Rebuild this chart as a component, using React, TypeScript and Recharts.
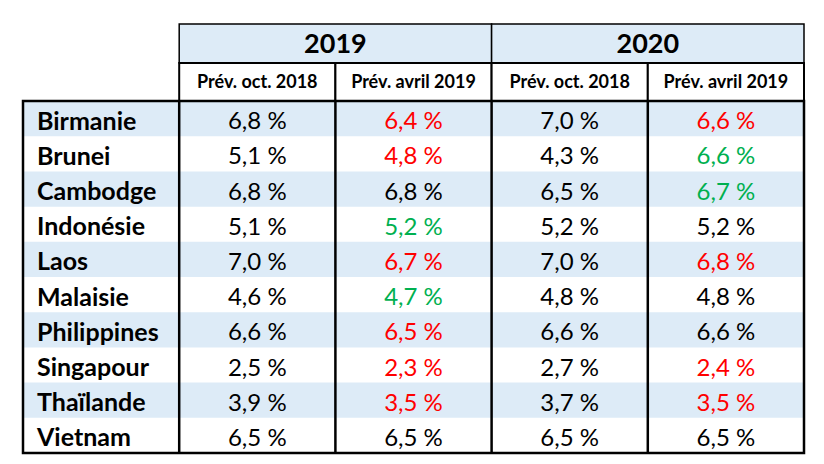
import React from "react";
import {
  ScatterChart,
  XAxis,
  YAxis,
  Scatter,
  ReferenceArea,
  ReferenceLine,
} from "recharts";

const countries = [
  "Birmanie",
  "Brunei",
  "Cambodge",
  "Indonésie",
  "Laos",
  "Malaisie",
  "Philippines",
  "Singapour",
  "Thaïlande",
  "Vietnam",
];
const years = ["2019", "2020"];
const editions = ["Prév. oct. 2018", "Prév. avril 2019"];

// growth forecasts (%), one array per column
const oct2018For2019 = [6.8, 5.1, 6.8, 5.1, 7.0, 4.6, 6.6, 2.5, 3.9, 6.5];
const avr2019For2019 = [6.4, 4.8, 6.8, 5.2, 6.7, 4.7, 6.5, 2.3, 3.5, 6.5];
const oct2018For2020 = [7.0, 4.3, 6.5, 5.2, 7.0, 4.8, 6.6, 2.7, 3.7, 6.5];
const avr2019For2020 = [6.6, 6.6, 6.7, 5.2, 6.8, 4.8, 6.6, 2.4, 3.5, 6.5];

const BLUE = "#DDEBF7";
const FONT = "Lato, 'Open Sans', sans-serif";
const TOP = -2.19; // top of year header row (row units)
const MID = -1.08; // line between year row and edition row

const trend = (now: number, before: number) =>
  now < before ? "#FF0000" : now > before ? "#00B050" : "#000000";
const fmt = (v: number) => v.toFixed(1).replace(".", ",") + " %";

const columns = [
  { values: oct2018For2019, ref: null as number[] | null },
  { values: avr2019For2019, ref: oct2018For2019 },
  { values: oct2018For2020, ref: null as number[] | null },
  { values: avr2019For2020, ref: oct2018For2020 },
];

const cells = columns.flatMap((col, c) =>
  col.values.map((v, r) => ({
    col: c + 1.5,
    row: r + 0.5,
    label: fmt(v),
    color: col.ref ? trend(v, col.ref[r]) : "#000000",
  }))
);
const rowLabels = countries.map((name, r) => ({ col: 0, row: r + 0.5, label: name }));

const ValueCell = (p: any) => (
  <text
    x={p.cx}
    y={p.cy + 1}
    textAnchor="middle"
    dominantBaseline="central"
    fontFamily={FONT}
    fontSize={24}
    fill={p.payload.color}
  >
    {p.payload.label}
  </text>
);

const CountryCell = (p: any) => (
  <text
    x={p.cx + 14}
    y={p.cy + 1}
    textAnchor="start"
    dominantBaseline="central"
    fontFamily={FONT}
    fontWeight="bold"
    fontSize={25}
    fill="#000000"
  >
    {p.payload.label}
  </text>
);

const headerLabel = (value: string, size: number) => ({
  value,
  position: "center" as const,
  fill: "#000000",
  fontFamily: FONT,
  fontWeight: "bold",
  fontSize: size,
});

export default function App() {
  return (
    <ScatterChart
      width={808}
      height={448}
      margin={{ top: 16, right: 12, bottom: 3, left: 15 }}
    >
      <XAxis type="number" dataKey="col" domain={[0, 5]} hide />
      <YAxis type="number" dataKey="row" domain={[TOP, 10]} reversed hide />

      {countries.map((c, r) =>
        r % 2 === 0 ? (
          <ReferenceArea
            key={c}
            x1={0}
            x2={5}
            y1={r}
            y2={r + 1}
            fill={BLUE}
            fillOpacity={1}
            stroke="none"
          />
        ) : null
      )}

      {years.map((y, i) => (
        <ReferenceArea
          key={y}
          x1={1 + 2 * i}
          x2={3 + 2 * i}
          y1={TOP}
          y2={MID}
          fill={BLUE}
          fillOpacity={1}
          stroke="#000000"
          strokeWidth={1.5}
          label={headerLabel(y, 27)}
        />
      ))}
      {years.flatMap((y, i) =>
        editions.map((e, j) => (
          <ReferenceArea
            key={y + e}
            x1={1 + 2 * i + j}
            x2={2 + 2 * i + j}
            y1={MID}
            y2={0}
            fill="#FFFFFF"
            fillOpacity={1}
            stroke="#000000"
            strokeWidth={2}
            label={headerLabel(e, 18)}
          />
        ))
      )}

      {[1, 2, 3, 4].map((x) => (
        <ReferenceLine
          key={x}
          segment={[
            { x, y: 0 },
            { x, y: 10 },
          ]}
          stroke="#000000"
          strokeWidth={2.5}
        />
      ))}
      <ReferenceArea
        x1={0}
        x2={5}
        y1={0}
        y2={10}
        fill="none"
        stroke="#000000"
        strokeWidth={2.5}
      />

      <Scatter data={rowLabels} shape={CountryCell} isAnimationActive={false} />
      <Scatter data={cells} shape={ValueCell} isAnimationActive={false} />
    </ScatterChart>
  );
}
